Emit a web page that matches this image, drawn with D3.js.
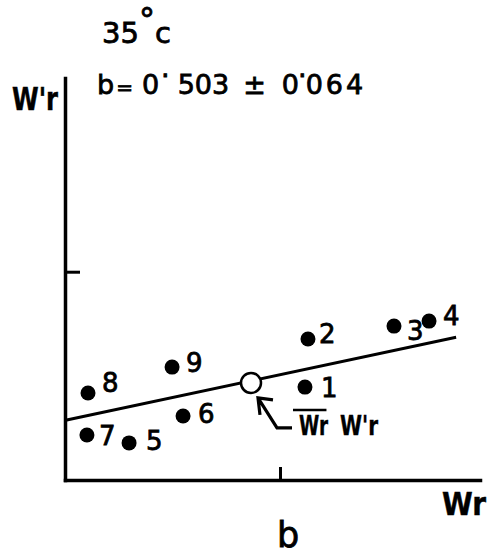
<!DOCTYPE html>
<html><head><meta charset="utf-8">
<script src="https://cdn.jsdelivr.net/npm/d3@7"></script>
<style>body{margin:0;background:#fff}svg{display:block}</style>
</head><body>
<svg id="c" width="495" height="557"></svg>
<script>
// ---- data ----
const pointIds = ["1","2","3","4","5","6","7","8","9"];
const wrValues = [1.116, 1.130, 1.530, 1.693, 0.298, 0.549, 0.102, 0.107, 0.498];
const wpValues = [0.446, 0.677, 0.739, 0.763, 0.178, 0.307, 0.216, 0.418, 0.542];
const meanWr = [0.865];
const meanWp = [0.466];
const lineWr = [0.008, 1.819];
const lineWp = [0.288, 0.685];
const xTicks = [1];
const yTicks = [1];
const titleText = ["35", "°", "c"];
const slopeParts = ["b", "=", "0", "·", "503", "±", "0", "·", "064"];
const xLabel = "Wr";
const yLabel = "W'r";
const meanLabel = ["Wr", "W'r"];
const panelLabel = "b";

// ---- layout ----
const labelNudge = {"1":[16,10],"2":[11,4],"3":[13,14],"4":[14,4],"5":[17,7],"6":[15,7],"7":[12,10],"8":[14,-1],"9":[14,5]};
// [dx, dy, fontSize, letterSpacing] per part of the slope text
const slopeStyle = [[0,0,27,0],[2,0,20,0],[9,0,27,0],[2,-9,27,0],[8,9,27,0],[14,0,27,0],[16,0,27,0],[-1,-9,27,0],[-1,9,27,3]];
const font = "'DejaVu Sans', sans-serif";

const svg = d3.select("#c");
const x = d3.scaleLinear().domain([0, 1.93]).range([65, 480]);
const y = d3.scaleLinear().domain([0, 1.93]).range([480, 78]);

function ink(sel, w) { return sel.attr("fill", "#000").attr("stroke", "#000").attr("stroke-width", w); }

// axes
svg.append("g").attr("transform", `translate(0,${y(0)})`)
  .call(d3.axisTop(x).tickValues(xTicks).tickSize(13).tickSizeOuter(0).tickFormat(""));
svg.append("g").attr("transform", `translate(${x(0)},0)`)
  .call(d3.axisRight(y).tickValues(yTicks).tickSize(15).tickSizeOuter(0).tickFormat(""));
svg.selectAll(".domain").attr("stroke", "#000").attr("stroke-width", 3.5).attr("stroke-linecap", "square");
svg.selectAll(".tick line").attr("stroke", "#000").attr("stroke-width", 3);

// regression line
svg.append("line")
  .attr("x1", x(lineWr[0])).attr("y1", y(lineWp[0]))
  .attr("x2", x(lineWr[1])).attr("y2", y(lineWp[1]))
  .attr("stroke", "#000").attr("stroke-width", 3);

// points
const pts = pointIds.map((id, i) => ({id, wr: wrValues[i], wp: wpValues[i]}));
svg.selectAll("circle.pt").data(pts).join("circle").attr("class", "pt")
  .attr("cx", d => x(d.wr)).attr("cy", d => y(d.wp)).attr("r", 7.5).attr("fill", "#000");
ink(svg.selectAll("text.pl").data(pts).join("text").attr("class", "pl")
  .attr("x", d => x(d.wr) + labelNudge[d.id][0])
  .attr("y", d => y(d.wp) + labelNudge[d.id][1])
  .attr("font-family", font).attr("font-size", 26).text(d => d.id), 0.8);

// mean point (open circle)
const mx = x(meanWr[0]), my = y(meanWp[0]);
svg.append("circle").attr("cx", mx).attr("cy", my).attr("r", 10)
  .attr("fill", "#fff").attr("stroke", "#000").attr("stroke-width", 2.5);

// arrow to mean point
const tipX = mx + 7, tipY = my + 15;
svg.append("path")
  .attr("d", `M${tipX + 15},${tipY + 2}L${tipX},${tipY}L${tipX + 2},${tipY + 17}M${tipX},${tipY}L${tipX + 19},${tipY + 30}L${tipX + 34},${tipY + 30}`)
  .attr("fill", "none").attr("stroke", "#000").attr("stroke-width", 3.2)
  .attr("stroke-linejoin", "miter");

// mean label
const ml1 = ink(svg.append("text").attr("x", tipX + 41).attr("y", tipY + 37)
  .attr("font-family", font).attr("font-weight", "bold").attr("font-size", 27)
  .attr("textLength", 29).attr("lengthAdjust", "spacingAndGlyphs").text(meanLabel[0]), 0.4);
ink(svg.append("text").attr("x", tipX + 82).attr("y", tipY + 37)
  .attr("font-family", font).attr("font-weight", "bold").attr("font-size", 27)
  .attr("textLength", 38).attr("lengthAdjust", "spacingAndGlyphs").text(meanLabel[1]), 0.4);
const bb = ml1.node().getBBox();
svg.append("line").attr("x1", bb.x - 6).attr("x2", bb.x + bb.width - 2)
  .attr("y1", tipY + 12).attr("y2", tipY + 12).attr("stroke", "#000").attr("stroke-width", 2.5);

// axis labels
ink(svg.append("text").attr("x", 12).attr("y", 110)
  .attr("font-family", font).attr("font-weight", "bold").attr("font-size", 32)
  .attr("textLength", 46).attr("lengthAdjust", "spacingAndGlyphs").text(yLabel), 0.5);
ink(svg.append("text").attr("x", 442).attr("y", 515)
  .attr("font-family", font).attr("font-weight", "bold").attr("font-size", 32)
  .attr("textLength", 44).attr("lengthAdjust", "spacingAndGlyphs").text(xLabel), 0.5);

// title
const t = ink(svg.append("text").attr("x", 102).attr("y", 43)
  .attr("font-family", font).attr("font-size", 29), 0.8);
t.append("tspan").text(titleText[0]);
t.append("tspan").attr("dy", -12).attr("font-size", 32).text(titleText[1]);
t.append("tspan").attr("dy", 12).text(titleText[2]);

// slope text
const st = ink(svg.append("text").attr("x", 97).attr("y", 94)
  .attr("font-family", font).attr("font-size", 27), 0.8);
slopeParts.forEach((p, i) => {
  const [dx, dy, fs, ls] = slopeStyle[i];
  st.append("tspan").attr("dx", dx).attr("dy", dy).attr("font-size", fs)
    .attr("letter-spacing", ls).text(p);
});

ink(svg.append("text").attr("x", 288).attr("y", 547).attr("text-anchor", "middle")
  .attr("font-family", font).attr("font-size", 35).text(panelLabel), 0.8);
</script>
</body></html>
